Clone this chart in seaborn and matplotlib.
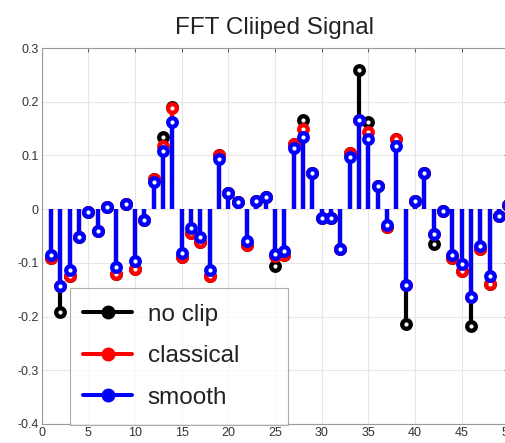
import numpy as np
import pandas as pd
import matplotlib
matplotlib.use("Agg")
import matplotlib.pyplot as plt
import seaborn as sns
from matplotlib.lines import Line2D
from matplotlib.legend_handler import HandlerLine2D
from matplotlib.ticker import FuncFormatter

bins = list(range(1, 51))

smooth = [-0.086, -0.144, -0.113, -0.052, -0.006, -0.040, 0.004, -0.108, 0.009, -0.097,
          -0.021, 0.051, 0.109, 0.162, -0.081, -0.036, -0.052, -0.113, 0.093, 0.031,
          0.013, -0.060, 0.015, 0.022, -0.083, -0.078, 0.114, 0.134, 0.067, -0.016,
          -0.016, -0.074, 0.097, 0.166, 0.131, 0.044, -0.030, 0.118, -0.142, 0.016,
          0.067, -0.047, -0.004, -0.086, -0.103, -0.164, -0.068, -0.125, -0.012, 0.008]

classical = [-0.091, -0.144, -0.125, -0.052, -0.006, -0.040, 0.004, -0.121, 0.009, -0.111,
             -0.021, 0.057, 0.118, 0.189, -0.090, -0.044, -0.062, -0.124, 0.100, 0.031,
             0.013, -0.066, 0.015, 0.022, -0.088, -0.085, 0.122, 0.149, 0.067, -0.016,
             -0.016, -0.074, 0.105, 0.166, 0.143, 0.044, -0.034, 0.131, -0.142, 0.016,
             0.067, -0.047, -0.004, -0.091, -0.116, -0.164, -0.075, -0.139, -0.012, 0.008]

no_clip = [-0.091, -0.191, -0.125, -0.052, -0.006, -0.040, 0.004, -0.121, 0.009, -0.111,
           -0.021, 0.057, 0.134, 0.190, -0.090, -0.044, -0.062, -0.124, 0.100, 0.031,
           0.013, -0.066, 0.015, 0.022, -0.105, -0.085, 0.122, 0.166, 0.067, -0.016,
           -0.016, -0.074, 0.105, 0.259, 0.162, 0.044, -0.034, 0.131, -0.214, 0.016,
           0.067, -0.064, -0.004, -0.091, -0.116, -0.218, -0.075, -0.139, -0.012, 0.008]

series_names = ["no clip", "classical", "smooth"]
series_colors = ["#000000", "#ff0000", "#0000ff"]
xticks = list(range(0, 51, 5))
yticks = [-0.4, -0.3, -0.2, -0.1, 0, 0.1, 0.2, 0.3]

sns.set_theme(style="white")
plt.rcParams["font.family"] = ["Liberation Sans", "DejaVu Sans"]

df = pd.DataFrame({
    "bin": bins * 3,
    "value": no_clip + classical + smooth,
    "series": sum([[n] * len(bins) for n in series_names], []),
})

fig = plt.figure(figsize=(5.05, 4.43), dpi=100)
ax = fig.add_axes([0.0826, 0.0429, 0.9238, 0.8487])

for i, (name, col) in enumerate(zip(series_names, series_colors)):
    sub = df[df["series"] == name]
    ax.vlines(sub["bin"], 0, sub["value"], colors=col, linewidth=3.0, zorder=3 + 2 * i)
    sns.scatterplot(data=sub, x="bin", y="value", ax=ax, marker="o", s=38,
                    facecolor="white", edgecolor=col, linewidth=3.1,
                    zorder=4 + 2 * i, legend=False)

ax.set_xlim(0, 50)
ax.set_ylim(-0.4, 0.3)
ax.set_xticks(xticks)
ax.set_yticks(yticks)
ax.yaxis.set_major_formatter(FuncFormatter(lambda v, p: ("%g" % round(v, 2)).replace("\u2212", "-")))
ax.xaxis.set_major_formatter(FuncFormatter(lambda v, p: "%g" % v))
ax.set_xlabel("")
ax.set_ylabel("")
ax.grid(True, color="#e6e6e6", linewidth=0.8, zorder=0)
ax.set_axisbelow(True)
ax.tick_params(axis="both", direction="in", length=3, width=0.6, color="#444444",
               labelsize=9, labelcolor="#333333", top=True, right=True, pad=2)
for sp in ax.spines.values():
    sp.set_color("#9a9a9a")
    sp.set_linewidth(0.8)

ax.set_title("FFT Cliiped Signal", fontsize=17.5, color="#222222", pad=10)


class RightMarkerHandler(HandlerLine2D):
    def get_xdata(self, legend, xdescent, ydescent, width, height, fontsize):
        xdata = np.array([-xdescent - 2, -xdescent + width])
        xdata_marker = np.array([-xdescent + width * 0.86])
        return xdata, xdata_marker


handles = [Line2D([0], [0], color=c, linewidth=2.9, marker="o", markersize=9,
                  markerfacecolor=c, markeredgecolor=c) for c in series_colors]
leg = ax.legend(handles, series_names, loc="upper left",
                bbox_to_anchor=(0.0607, 0.0, 0.467, 0.3617), mode="expand",
                borderaxespad=0, fontsize=17.5, frameon=True, fancybox=False,
                handlelength=1.9, handletextpad=0.65, labelspacing=0.8,
                borderpad=0.65, handler_map={Line2D: RightMarkerHandler()})
leg.get_frame().set_edgecolor("#999999")
leg.get_frame().set_linewidth(0.8)
for t in leg.get_texts():
    t.set_color("#222222")
leg.set_zorder(20)

fig.savefig("out.png", dpi=100)
